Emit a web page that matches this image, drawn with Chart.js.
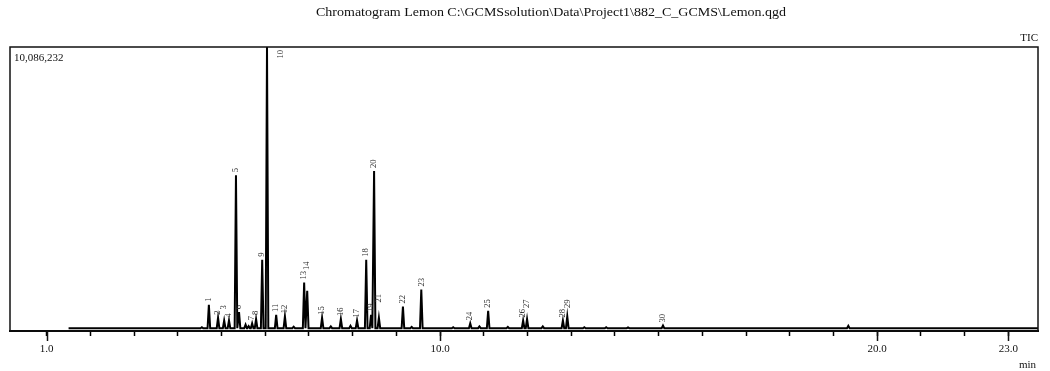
<!DOCTYPE html>
<html>
<head>
<meta charset="utf-8">
<script src="https://cdn.jsdelivr.net/npm/chart.js@4"></script>
<style>
  html, body { margin: 0; padding: 0; background: #fff; }
  #wrap { width: 1050px; height: 371px; position: relative; }
</style>
</head>
<body>
<div id="wrap"><canvas id="tic"></canvas></div>
<script>
/* ======== Data ======== */
const titleText = 'Chromatogram Lemon C:\\GCMSsolution\\Data\\Project1\\882_C_GCMS\\Lemon.qgd';
const maxIntensity = 10086232;
const peakLabels = ['1','2','3','4','5','6','7','8','9','10','11','12','13','14','15',
                    '16','17','18','19','20','21','22','23','24','25','26','27','28','29','30'];
const peakTimes = [4.71, 4.92, 5.06, 5.17, 5.33, 5.40, 5.70, 5.79, 5.93, 6.04, 6.25, 6.45, 6.89, 6.96, 7.30,
                   7.73, 8.10, 8.31, 8.42, 8.49, 8.60, 9.15, 9.57, 10.69, 11.10, 11.90, 11.99, 12.81, 12.91, 15.10];
const peakHeights = [860000, 400000, 300000, 300000, 5500000, 600000, 200000, 350000, 2470000, 10086232,
                     500000, 450000, 1660000, 1360000, 400000, 350000, 300000, 2470000, 500000, 5650000,
                     400000, 800000, 1410000, 200000, 650000, 300000, 350000, 300000, 450000, 120000];
// small unlabeled bumps on the baseline
const minorTimes = [4.55, 5.55, 5.62, 6.65, 7.50, 7.95, 9.35, 10.30, 10.90, 11.55, 12.35, 13.30, 13.80, 14.30, 19.34];
const minorHeights = [60000, 150000, 100000, 80000, 90000, 110000, 70000, 60000, 90000, 70000, 90000, 60000, 60000, 50000, 110000];
const traceStart = 1.5, traceEnd = 23.68;
const tickMinutes = [1,2,3,4,5,6,7,8,9,10,11,12,13,14,15,16,17,18,19,20,21,22,23];
const labeledMinutes = [1, 10, 20, 23];

/* ======== Build trace ======== */
const halfWidth = 0.03;
const trace = [{ x: traceStart, y: 25000 }, { x: traceEnd, y: 25000 }];
peakTimes.concat(minorTimes).forEach((t, i) => {
    const h = i < peakTimes.length ? peakHeights[i] : minorHeights[i - peakTimes.length];
    trace.push({ x: t - halfWidth, y: 25000 }, { x: t, y: h }, { x: t + halfWidth, y: 25000 });
});
trace.sort((a, b) => a.x - b.x);

const serif = "'Liberation Serif', 'DejaVu Serif', serif";

/* ======== Plugin: frame, texts, peak numbers ======== */
const decor = {
    id: 'decor',
    afterDatasetsDraw(chart) {
        const { ctx, chartArea: a, scales } = chart;
        const xs = scales.x, ys = scales.y;
        ctx.save();
        // frame
        ctx.strokeStyle = '#111';
        ctx.lineWidth = 1.5;
        ctx.strokeRect(a.left, a.top, a.right - a.left, a.bottom - a.top);
        // longer ticks at labeled minutes
        labeledMinutes.forEach(m => {
            const px = Math.round(xs.getPixelForValue(m)) + 0.5;
            ctx.beginPath();
            ctx.moveTo(px, a.bottom);
            ctx.lineTo(px, a.bottom + 10);
            ctx.stroke();
        });
        // title, squeezed to the reference width
        ctx.fillStyle = '#111';
        ctx.font = '12.5px ' + serif;
        ctx.textBaseline = 'middle';
        ctx.textAlign = 'left';
        const tw = ctx.measureText(titleText).width;
        ctx.save();
        ctx.translate(316, 13);
        ctx.scale(470 / tw, 1);
        ctx.fillText(titleText, 0, 0);
        ctx.restore();
        ctx.font = '11px ' + serif;
        ctx.textAlign = 'right';
        ctx.fillText('TIC', a.right, 38);
        ctx.fillText('min', a.right - 2, 365);
        ctx.textAlign = 'left';
        ctx.fillText(maxIntensity.toLocaleString('en-US'), a.left + 4, a.top + 11);
        // peak numbers, rotated
        ctx.font = '8.5px ' + serif;
        ctx.fillStyle = '#2a2a2a';
        const boxes = [];
        peakLabels.forEach((lab, i) => {
            const px = xs.getPixelForValue(peakTimes[i]);
            const py = ys.getPixelForValue(peakHeights[i]);
            const w = ctx.measureText(lab).width;
            let cx = px, bottom = py - 3;
            if (bottom - w < a.top) { cx = px + 14; bottom = a.top + 3 + w; }
            let moved = true;
            while (moved) {
                moved = false;
                for (const b of boxes) {
                    if (Math.abs(b.cx - cx) < 8 && bottom > b.top - 1 && bottom - w < b.bottom + 1) {
                        bottom = b.top - 1;
                        moved = true;
                    }
                }
            }
            boxes.push({ cx, bottom, top: bottom - w });
            ctx.save();
            ctx.translate(cx, bottom);
            ctx.rotate(-Math.PI / 2);
            ctx.textAlign = 'left';
            ctx.textBaseline = 'middle';
            ctx.fillText(lab, 0, 0);
            ctx.restore();
        });
        ctx.restore();
    }
};

/* ======== Chart ======== */
new Chart(document.getElementById('tic'), {
    type: 'line',
    data: {
        datasets: [{
            data: trace,
            borderColor: '#000',
            borderWidth: 2,
            pointRadius: 0,
            tension: 0,
            fill: false
        }]
    },
    options: {
        responsive: true,
        maintainAspectRatio: false,
        animation: false,
        events: [],
        layout: { padding: { left: 10, right: 12, top: 47, bottom: 0 } },
        plugins: { legend: { display: false }, tooltip: { enabled: false }, title: { display: false } },
        scales: {
            x: {
                type: 'linear',
                min: 0.16,
                max: 23.68,
                afterBuildTicks: s => { s.ticks = tickMinutes.map(v => ({ value: v })); },
                afterFit: s => { s.height = 40; },
                border: { display: true, color: '#000', width: 2 },
                grid: { drawOnChartArea: false, drawTicks: true, tickLength: 5, tickColor: '#000', tickWidth: 1.5 },
                ticks: {
                    autoSkip: false,
                    maxRotation: 0,
                    padding: 7,
                    color: '#111',
                    font: { family: serif, size: 11 },
                    callback: v => labeledMinutes.includes(v) ? v.toFixed(1) : ''
                }
            },
            y: {
                display: false,
                min: -75000,
                max: maxIntensity
            }
        }
    },
    plugins: [decor]
});
</script>
</body>
</html>
